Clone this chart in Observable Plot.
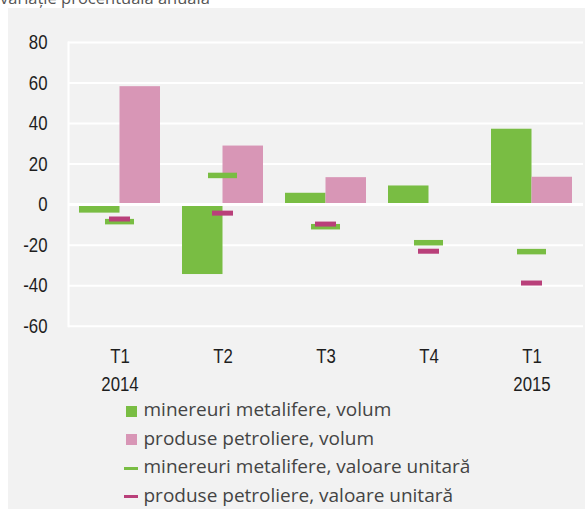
<!DOCTYPE html>
<html>
<head>
<meta charset="utf-8">
<script src="https://cdn.jsdelivr.net/npm/d3@7"></script>
<script src="https://cdn.jsdelivr.net/npm/@observablehq/plot@0.6"></script>
<style>
  html, body { margin: 0; padding: 0; background: #ffffff; }
  body { width: 585px; height: 509px; position: relative; overflow: hidden; }
  #title { position: absolute; left: 0; top: -12.4px; font: 16.5px/20px "Open Sans", sans-serif; color: #555; white-space: nowrap; }
  #panel { position: absolute; left: 8px; top: 8px; width: 577px; height: 501px; background: #f2f2f2; }
  #chart { position: absolute; left: 0; top: 0; }
  #legend { position: absolute; left: 117px; top: 387.25px; font: 19px/28.5px "Open Sans", sans-serif; color: #444; }
  .row { white-space: nowrap; height: 28.5px; }
  .sw { display: inline-block; vertical-align: middle; margin-right: 4.5px; }
  .sq { width: 11px; height: 11px; margin-left: 1px; margin-right: 6.5px; }
  .ln { width: 14px; height: 3px; margin-left: -1px; margin-right: 5.5px; }
</style>
</head>
<body>
<div id="title">variație procentuală anuală</div>
<div id="panel">
  <div id="chart"></div>
  <div id="legend"></div>
</div>
<script>
// ---- data ----
const categories = ["T1 2014", "T2 2014", "T3 2014", "T4 2014", "T1 2015"];
const tickLabels = ["T1\n2014", "T2", "T3", "T4", "T1\n2015"];
const minereuriVolum = [-4.2, -34.5, 5.6, 9.2, 37.2];
const petroliereVolum = [58.2, 28.9, 13.3, 0, 13.5];
const minereuriValoare = [-8.4, 14.4, -10.9, -18.8, -23.2];
const petroliereValoare = [-7.1, -4.2, -9.6, -23.0, -38.7];
const yTicks = [-60, -40, -20, 0, 20, 40, 60, 80];
const seriesNames = [
  "minereuri metalifere, volum",
  "produse petroliere, volum",
  "minereuri metalifere, valoare unitară",
  "produse petroliere, valoare unitară"
];

const GREEN = "#79bd43";
const PINK = "#d896b6";
const MAGENTA = "#b9407a";

const data = categories.map((c, i) => ({
  cat: c,
  mv: minereuriVolum[i],
  pv: petroliereVolum[i],
  mu: minereuriValoare[i],
  pu: petroliereValoare[i]
}));

const chart = Plot.plot({
  width: 577,
  height: 395,
  marginLeft: 60,
  marginRight: 2,
  marginTop: 34,
  marginBottom: 77.3,
  style: { background: "transparent", fontFamily: "'Liberation Sans', Arial, sans-serif" },
  x: { domain: categories, padding: 0, label: null },
  y: { domain: [-60, 80], label: null },
  marks: [
    Plot.ruleY(yTicks, { stroke: "white", strokeWidth: 2 }),
    Plot.frame({ anchor: "left", stroke: "white", strokeWidth: 2 }),
    Plot.barY(data, { x: "cat", y: "mv", fill: GREEN, insetLeft: 11, insetRight: 51.5 }),
    Plot.barY(data, { x: "cat", y: "pv", fill: PINK, insetLeft: 51.5, insetRight: 11 }),
    Plot.ruleY([0], { stroke: "white", strokeWidth: 3 }),
    Plot.tickY(data, { x: "cat", y: "mu", stroke: GREEN, strokeWidth: 5.5, insetLeft: 37, insetRight: 37 }),
    Plot.tickY(data, { x: "cat", y: "pu", stroke: MAGENTA, strokeWidth: 5, insetLeft: 41, insetRight: 41 }),
    Plot.axisY({ ticks: yTicks, tickSize: 0, tickPadding: 21, fontSize: 21, fill: "#1e1e1e", tickFormat: d => String(d), label: null }),
    Plot.axisX({ tickSize: 0, tickPadding: 16.5, fontSize: 21, lineHeight: 1.34, fill: "#1e1e1e", tickFormat: d => tickLabels[categories.indexOf(d)], label: null })
  ]
});

// narrow the axis tick labels (condensed look), scaling about each label's anchor
chart.querySelectorAll('g[aria-label$="tick label"] text').forEach(t => {
  let ax = t.getAttribute("x");
  if (ax == null) { const s = t.querySelector("tspan[x]"); ax = s ? s.getAttribute("x") : 0; }
  ax = +ax || 0;
  const tr = t.getAttribute("transform") || "";
  t.setAttribute("transform", `${tr} translate(${ax},0) scale(0.8,1) translate(${-ax},0)`);
});
document.getElementById("chart").appendChild(chart);

// legend
const legend = document.getElementById("legend");
const swatches = [
  { cls: "sq", color: GREEN },
  { cls: "sq", color: PINK },
  { cls: "ln", color: GREEN },
  { cls: "ln", color: MAGENTA }
];
seriesNames.forEach((name, i) => {
  const row = document.createElement("div");
  row.className = "row";
  const sw = document.createElement("span");
  sw.className = "sw " + swatches[i].cls;
  sw.style.background = swatches[i].color;
  row.appendChild(sw);
  row.appendChild(document.createTextNode(name));
  legend.appendChild(row);
});
</script>
</body>
</html>
